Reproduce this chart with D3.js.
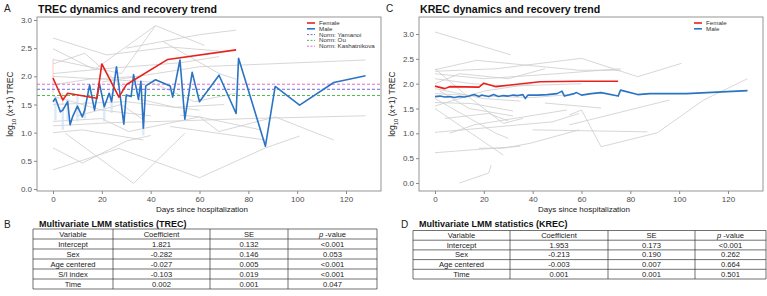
<!DOCTYPE html>
<html>
<head>
<meta charset="utf-8">
<script src="https://cdn.jsdelivr.net/npm/d3@7"></script>
<style>
body{margin:0;background:#fff;font-family:Arial,"Liberation Sans",sans-serif;}
</style>
</head>
<body>
<script>
// ---- data ----
var yTicks = [0, 0.5, 1, 1.5, 2, 2.5, 3];
var xTicks = [0, 20, 40, 60, 80, 100, 120];

// TREC panel
var trecMaleDays = [0,1,3,4,6,7,8,10,12,13,15,17,19,21,23,24,26,29,30,32,33,35,36,37,38,42,48,49,52,54,57,60,68,75,76,87,91,101,115,128];
var trecMaleVals = [1.55,1.61,1.37,1.40,1.55,1.14,1.28,1.47,1.28,1.40,1.85,1.40,1.88,1.46,1.70,1.55,2.17,1.15,1.67,1.64,2.03,1.59,1.91,1.08,1.83,1.94,1.83,1.63,2.29,1.24,2.07,1.55,2.02,1.34,2.32,0.76,1.82,1.49,1.89,2.01];
var trecFemaleDays = [0,4,6,18,20,27,30,47,75];
var trecFemaleVals = [1.97,1.58,1.70,1.61,2.22,1.63,1.85,2.30,2.47];
var trecMaleCI = [[1,1.22,1.60],[4,1.05,1.45],[6,1.2,1.6],[10,1.2,1.65],[13,1.25,1.55],[21,1.2,1.55],[24,1.35,1.7],[37,0.95,1.2]];
var trecFemaleCI = [[0,1.70,2.30],[4,1.49,1.70]];
var normNames = ["Norm: Yamanoi", "Norm: Ou", "Norm: Kashatnikova"];
var normVals = [1.77, 1.66, 1.86];
var normColors = ["#5a5ad8", "#3db33d", "#d85cd8"];
var trecGrey = [
  [[0,2.68],[22,2.38],[48,2.52],[68,2.45]],
  [[0,2.49],[17,2.12],[42,2.9],[62,2.55]],
  [[0,2.22],[13,2.41],[30,1.76]],
  [[0,2.3],[28,2.05],[42,2.9]],
  [[20,1.9],[60,2.17],[128,2.29]],
  [[30,2.5],[60,2.74],[75,2.82]],
  [[45,2.62],[68,2.05],[75,1.95]],
  [[0,2.05],[25,2.15],[52,2.24],[68,2.35]],
  [[0,1.85],[15,1.95],[35,2.0]],
  [[0,1.65],[20,1.4],[40,1.3]],
  [[0,1.2],[20,1.25],[31,1.02],[60,1.28],[85,1.05]],
  [[0,1.0],[12,1.05],[37,0.87]],
  [[5,0.99],[33,0.1],[54,0.99]],
  [[0,0.34],[27,0.72],[60,0.2],[87,0.73],[101,0.94]],
  [[0,0.73],[12,0.46],[30,0.85],[40,0.95]],
  [[52,1.31],[60,1.28],[68,1.02],[91,1.28],[115,0.87]],
  [[48,1.11],[87,0.87]],
  [[0,1.12],[25,1.18],[45,1.2],[80,1.25],[128,1.3]],
  [[0,1.5],[30,1.55],[60,1.4]],
  [[10,1.3],[28,1.5],[38,1.2]],
  [[0,2.0],[40,1.9],[58,1.55],[75,1.7]],
  [[35,1.6],[50,1.45],[70,1.5]]
];

// KREC panel
var krecMaleDays = [0,2,4,6,8,10,12,14,16,18,19,21,22,24,26,28,30,32,34,36,37,38,42,46,50,52,53,57,58,60,64,68,75,76,83,88,103,128];
var krecMaleVals = [1.74,1.75,1.73,1.74,1.72,1.74,1.73,1.75,1.78,1.74,1.77,1.75,1.74,1.78,1.74,1.76,1.75,1.77,1.76,1.78,1.70,1.77,1.77,1.78,1.80,1.85,1.75,1.80,1.82,1.77,1.80,1.82,1.75,1.87,1.78,1.80,1.80,1.86];
var krecFemaleDays = [0,4,6,18,20,25,43,59,75];
var krecFemaleVals = [1.95,1.90,1.94,1.93,2.01,1.94,2.04,2.05,2.05];
var krecGrey = [
  [[0,3.04],[31,2.58]],
  [[0,2.28],[17,2.47],[59,2.27],[76,2.27]],
  [[0,2.25],[25,2.3],[60,2.51],[83,2.14],[101,2.41]],
  [[0,2.2],[20,2.1],[50,2.2],[76,2.3]],
  [[0,2.1],[15,2.0],[30,1.95],[60,2.0]],
  [[0,2.0],[10,2.2],[30,2.1],[45,2.3]],
  [[0,1.9],[20,1.7],[35,1.65]],
  [[0,1.8],[20,1.75],[40,1.72],[55,1.78]],
  [[0,1.62],[15,1.6],[32,1.45]],
  [[0,1.5],[28,0.56]],
  [[0,1.02],[48,1.23],[59,1.40]],
  [[6,1.0],[16,1.17],[54,1.47]],
  [[0,0.61],[35,0.74]],
  [[10,0],[22,0.2],[23,0.36]],
  [[18,0.7],[28,0.7],[39,0.8],[59,1.07]],
  [[55,1.37],[60,1.47],[68,0.73],[91,1.01],[110,1.67],[128,2.1]],
  [[40,1.07],[87,1.03]],
  [[55,1.17],[96,1.67]],
  [[45,1.61],[68,1.51]],
  [[0,2.3],[12,1.8],[28,1.2],[36,1.3]],
  [[0,1.7],[25,1.0],[30,0.9]],
  [[2,1.85],[14,1.5],[32,1.35]],
  [[0,1.55],[20,1.85],[40,2.0]],
  [[4,1.3],[22,1.4],[30,1.25]]
];

// tables
var tableCols = ["Variable", "Coefficient", "SE", "p-value"];
var trecTable = [
  ["Intercept", "1.821", "0.132", "<0.001"],
  ["Sex", "-0.282", "0.146", "0.053"],
  ["Age centered", "-0.027", "0.005", "<0.001"],
  ["S/I index", "-0.103", "0.019", "<0.001"],
  ["Time", "0.002", "0.001", "0.047"]
];
var krecTable = [
  ["Intercept", "1.953", "0.173", "<0.001"],
  ["Sex", "-0.213", "0.190", "0.262"],
  ["Age centered", "-0.003", "0.007", "0.664"],
  ["Time", "0.001", "0.001", "0.501"]
];

var maleCol = "#2b73c4", femaleCol = "#e8211d", greyCol = "#cdcdcd";

var svg = d3.select("body").append("svg").attr("width", 767).attr("height", 296)
  .style("font-family", "Arial, 'Liberation Sans', sans-serif");

function zip(d, v){ return d.map(function(t,i){ return [t, v[i]]; }); }

function drawPanel(p){
  var x = d3.scaleLinear().domain([0,120]).range(p.xr);
  var y = d3.scaleLinear().domain([0,3]).range(p.yr);
  var g = svg.append("g");

  var line = d3.line().x(function(d){return x(d[0]);}).y(function(d){return y(d[1]);});

  // individual trajectories
  g.selectAll("path.grey").data(p.grey).enter().append("path")
    .attr("class","grey").attr("d", line)
    .attr("fill","none").attr("stroke", greyCol).attr("stroke-width", 0.8);

  // CI bars
  if (p.maleCI) {
    g.selectAll("rect.mci").data(p.maleCI).enter().append("rect")
      .attr("x", function(d){return x(d[0]) - 1.2;}).attr("width", 2.4)
      .attr("y", function(d){return y(d[2]);})
      .attr("height", function(d){return y(d[1]) - y(d[2]);})
      .attr("fill", "#cfe0f3").attr("opacity", 0.7);
  }
  if (p.femaleCI) {
    g.selectAll("line.fci").data(p.femaleCI).enter().append("line")
      .attr("x1", function(d){return x(d[0]);}).attr("x2", function(d){return x(d[0]);})
      .attr("y1", function(d){return y(d[1]);}).attr("y2", function(d){return y(d[2]);})
      .attr("stroke", "#f5b5b5").attr("stroke-width", 0.7);
  }

  // reference norms
  if (p.norms) {
    g.selectAll("line.norm").data(normVals).enter().append("line")
      .attr("x1", p.frame[0]).attr("x2", p.frame[1])
      .attr("y1", function(d){return y(d);}).attr("y2", function(d){return y(d);})
      .attr("stroke", function(d,i){return normColors[i];})
      .attr("stroke-width", 0.9).attr("stroke-dasharray", "3,2");
  }

  g.append("path").attr("d", line(zip(p.maleD, p.maleV)))
    .attr("fill","none").attr("stroke", maleCol).attr("stroke-width", 1.6).attr("stroke-linejoin","round");
  g.append("path").attr("d", line(zip(p.femD, p.femV)))
    .attr("fill","none").attr("stroke", femaleCol).attr("stroke-width", 1.6).attr("stroke-linejoin","round");

  // frame
  g.append("rect").attr("x", p.frame[0]).attr("y", p.frame[2])
    .attr("width", p.frame[1]-p.frame[0]).attr("height", p.frame[3]-p.frame[2])
    .attr("fill","none").attr("stroke","#8a8a8a").attr("stroke-width",0.9);

  // axes
  var ya = g.append("g").attr("transform","translate("+p.frame[0]+",0)")
    .call(d3.axisLeft(y).tickValues(yTicks).tickFormat(d3.format(".1f")).tickSize(3).tickPadding(2));
  var xa = g.append("g").attr("transform","translate(0,"+p.frame[3]+")")
    .call(d3.axisBottom(x).tickValues(xTicks).tickSize(3).tickPadding(2));
  [ya, xa].forEach(function(a){
    a.select(".domain").remove();
    a.selectAll("line").attr("stroke","#8a8a8a");
    a.selectAll("text").attr("fill","#4d4d4d").style("font-size","8px").style("font-family","Arial, 'Liberation Sans', sans-serif");
  });

  g.append("text").attr("x", (p.frame[0]+p.frame[1])/2 - 7).attr("y", 212)
    .attr("text-anchor","middle").style("font-size","8px").attr("fill","#222")
    .text("Days since hospitalization");

  var yl = g.append("text").attr("transform","translate("+p.ylabX+","+((p.frame[2]+p.frame[3])/2)+") rotate(-90)")
    .attr("text-anchor","middle").style("font-size","8.5px").attr("fill","#222");
  yl.append("tspan").text("log");
  yl.append("tspan").attr("baseline-shift","sub").style("font-size","6px").text("10");
  yl.append("tspan").text(" (x+1) TREC");

  g.append("text").attr("x", p.frame[0]+1).attr("y", 12.5)
    .style("font-size","10.6px").style("font-weight","bold").attr("fill","#111").text(p.title);
  g.append("text").attr("x", p.letterX).attr("y", 12)
    .style("font-size","10px").attr("fill","#222").text(p.letter);

  // legend
  var items = [{n:"Female", c:femaleCol, dash:null, w:1.6}, {n:"Male", c:maleCol, dash:null, w:1.6}];
  if (p.norms) normNames.forEach(function(n,i){ items.push({n:n, c:normColors[i], dash:"2,1.5", w:0.9}); });
  var lg = g.append("g").attr("transform","translate("+p.legX+",23)");
  items.forEach(function(it,i){
    lg.append("line").attr("x1",0).attr("x2",8).attr("y1",i*5.8).attr("y2",i*5.8)
      .attr("stroke",it.c).attr("stroke-width",it.w).attr("stroke-dasharray",it.dash);
    lg.append("text").attr("x",12).attr("y",i*5.8+2).style("font-size","6.2px").attr("fill","#333").text(it.n);
  });
}

drawPanel({xr:[53,346], yr:[189,20], frame:[37,381,17,191], grey:trecGrey,
  maleD:trecMaleDays, maleV:trecMaleVals, femD:trecFemaleDays, femV:trecFemaleVals,
  maleCI:trecMaleCI, femaleCI:trecFemaleCI, norms:true,
  title:"TREC dynamics and recovery trend", letter:"A", letterX:4, ylabX:13, legX:307});

drawPanel({xr:[435,728], yr:[183,34], frame:[419,763,17,191], grey:krecGrey,
  maleD:krecMaleDays, maleV:krecMaleVals, femD:krecFemaleDays, femV:krecFemaleVals,
  norms:false, title:"KREC dynamics and recovery trend", letter:"C", letterX:386, ylabX:395, legX:694});

function drawTable(t){
  var g = svg.append("g");
  g.append("text").attr("x", t.letterX).attr("y", 228).style("font-size","10px").attr("fill","#222").text(t.letter);
  g.append("text").attr("x", t.cols[0]+6).attr("y", 226.5).style("font-size","9px").style("font-weight","bold")
    .attr("fill","#111").text(t.title);
  var rows = [tableCols].concat(t.rows);
  var h = t.rowH;
  g.selectAll("line.h").data(d3.range(rows.length+1)).enter().append("line")
    .attr("x1", t.cols[0]).attr("x2", t.cols[4])
    .attr("y1", function(i){return t.top + i*h;}).attr("y2", function(i){return t.top + i*h;})
    .attr("stroke","#333").attr("stroke-width",0.7);
  g.selectAll("line.v").data(t.cols).enter().append("line")
    .attr("x1", function(d){return d;}).attr("x2", function(d){return d;})
    .attr("y1", t.top).attr("y2", t.top + rows.length*h)
    .attr("stroke","#333").attr("stroke-width",0.7);
  rows.forEach(function(r, ri){
    r.forEach(function(c, ci){
      var tx = g.append("text").attr("x", (t.cols[ci]+t.cols[ci+1])/2).attr("y", t.top + ri*h + h/2 + 2.7)
        .attr("text-anchor","middle").style("font-size","7.6px").attr("fill","#222");
      if (ri === 0 && ci === 3) {
        tx.append("tspan").style("font-style","italic").text("p");
        tx.append("tspan").text(" -value");
      } else tx.text(c);
    });
  });
}

drawTable({letter:"B", letterX:4, title:"Multivariate LMM statistics (TREC)", rows:trecTable,
  cols:[33,113,210,288,377], top:229, rowH:10});
drawTable({letter:"D", letterX:401, title:"Multivariate LMM statistics (KREC)", rows:krecTable,
  cols:[413,510,608,695,766], top:230.5, rowH:9.7});
</script>
</body>
</html>
